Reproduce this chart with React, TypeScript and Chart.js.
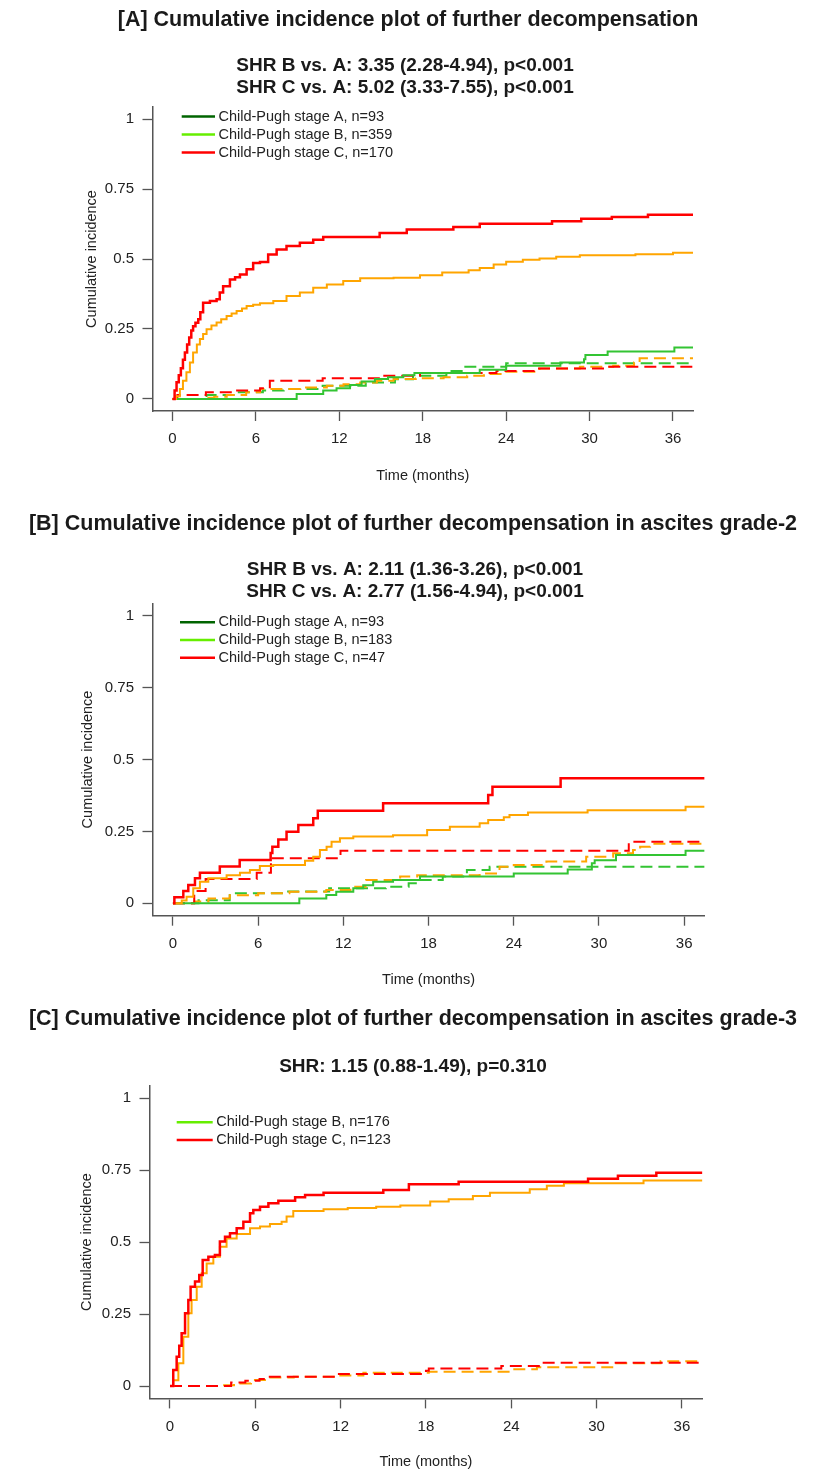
import React, { useEffect, useRef } from "react";
import { Chart, registerables } from "chart.js";

Chart.register(...registerables);

const FONT = '"Liberation Sans", Arial, Helvetica, sans-serif';

// ---------- shared axis data ----------
const xTickValues = [0, 6, 12, 18, 24, 30, 36];
const xTickLabels = ["0", "6", "12", "18", "24", "30", "36"];
const yTickValues = [0, 0.25, 0.5, 0.75, 1];
const yTickLabels = ["0", "0.25", "0.5", "0.75", "1"];
const xAxisTitle = "Time (months)";
const yAxisTitle = "Cumulative incidence";

// ---------- Panel A ----------
const titleA = "[A] Cumulative incidence plot of further decompensation";
const shrA = ["SHR B vs. A: 3.35 (2.28-4.94), p<0.001", "SHR C vs. A: 5.02 (3.33-7.55), p<0.001"];
const legendA = ["Child-Pugh stage A, n=93", "Child-Pugh stage B, n=359", "Child-Pugh stage C, n=170"];

const aStageCTime = [0, 0.15, 0.29, 0.45, 0.6, 0.75, 0.89, 1.05, 1.2, 1.35, 1.48, 1.65, 1.85, 2.0, 2.2, 2.69, 3.17, 3.4, 3.64, 4.13, 4.5, 4.85, 5.33, 5.8, 6.29, 6.88, 7.49, 8.2, 9.16, 10.12, 10.84, 14.9, 16.85, 20.2, 22.1, 27.3, 29.4, 31.6, 34.2, 37.44];
const aStageCInc = [0, 0.03, 0.06, 0.085, 0.11, 0.14, 0.166, 0.195, 0.22, 0.245, 0.26, 0.272, 0.285, 0.31, 0.344, 0.35, 0.356, 0.38, 0.403, 0.427, 0.435, 0.445, 0.463, 0.486, 0.489, 0.516, 0.534, 0.546, 0.558, 0.569, 0.579, 0.593, 0.605, 0.614, 0.626, 0.635, 0.644, 0.65, 0.658, 0.658];
const aStageBTime = [0, 0.25, 0.53, 0.75, 1.0, 1.25, 1.48, 1.75, 1.97, 2.2, 2.45, 2.8, 3.17, 3.5, 3.89, 4.25, 4.61, 5.0, 5.33, 5.8, 6.29, 7.25, 8.2, 9.16, 10.12, 11.1, 12.28, 13.5, 15.9, 17.8, 19.4, 21.3, 22.1, 23.1, 24.0, 25.2, 26.4, 27.6, 29.3, 33.3, 36.0, 37.44];
const aStageBInc = [0, 0.01, 0.036, 0.065, 0.095, 0.13, 0.166, 0.195, 0.214, 0.232, 0.249, 0.262, 0.273, 0.285, 0.296, 0.305, 0.314, 0.323, 0.332, 0.337, 0.342, 0.35, 0.368, 0.38, 0.397, 0.409, 0.421, 0.431, 0.433, 0.442, 0.452, 0.46, 0.468, 0.48, 0.49, 0.497, 0.502, 0.508, 0.513, 0.517, 0.522, 0.522];
const aStageATime = [0, 8.93, 10.84, 11.8, 12.77, 13.6, 14.56, 15.5, 16.6, 17.4, 22.1, 24.0, 27.9, 29.6, 29.7, 31.3, 36.1, 37.44];
const aStageAInc = [0, 0.018, 0.03, 0.038, 0.05, 0.062, 0.071, 0.078, 0.085, 0.0925, 0.104, 0.119, 0.13, 0.142, 0.157, 0.17, 0.184, 0.184];
const aStageACompTime = [0, 2.45, 4.6, 6.5, 8.0, 10.8, 13.9, 16.0, 17.3, 19.7, 20.8, 24.0, 37.44];
const aStageAComp = [0, 0.014, 0.024, 0.03, 0.036, 0.047, 0.059, 0.07, 0.083, 0.1, 0.115, 0.128, 0.128];
const aStageBCompTime = [0, 2.2, 3.0, 3.9, 5.3, 6.3, 9.2, 11.1, 12.3, 13.5, 14.7, 15.9, 17.5, 19.5, 21.2, 22.4, 23.6, 26.4, 29.3, 31.7, 33.2, 33.6, 37.44];
const aStageBComp = [0, 0.004, 0.008, 0.014, 0.024, 0.036, 0.041, 0.047, 0.053, 0.059, 0.065, 0.071, 0.074, 0.078, 0.083, 0.089, 0.097, 0.109, 0.115, 0.119, 0.13, 0.145, 0.145];
const aStageCCompTime = [0, 0.35, 2.4, 4.5, 6.3, 7.0, 10.8, 15.0, 17.8, 23.3, 26.0, 31.2, 37.44];
const aStageCComp = [0, 0.014, 0.024, 0.03, 0.038, 0.065, 0.074, 0.083, 0.0925, 0.1, 0.109, 0.115, 0.118];

// ---------- Panel B ----------
const titleB = "[B] Cumulative incidence plot of further decompensation in ascites grade-2";
const shrB = ["SHR B vs. A: 2.11 (1.36-3.26), p<0.001", "SHR C vs. A: 2.77 (1.56-4.94), p<0.001"];
const legendB = ["Child-Pugh stage A, n=93", "Child-Pugh stage B, n=183", "Child-Pugh stage C, n=47"];

const bStageCTime = [0, 0.1, 0.73, 1.08, 1.55, 1.9, 3.3, 4.7, 6.88, 7.0, 7.42, 8.0, 8.83, 9.88, 10.2, 14.8, 22.2, 22.5, 27.3, 37.44];
const bStageCInc = [0, 0.021, 0.043, 0.064, 0.087, 0.106, 0.128, 0.151, 0.175, 0.197, 0.222, 0.249, 0.272, 0.296, 0.322, 0.348, 0.377, 0.405, 0.435, 0.435];
const bStageBTime = [0, 0.62, 0.96, 1.43, 1.9, 2.49, 3.78, 4.72, 5.42, 6.12, 7.06, 9.3, 9.88, 10.35, 10.82, 11.17, 11.76, 12.7, 15.5, 17.9, 19.5, 21.6, 22.2, 23.3, 23.7, 25.0, 29.2, 36.1, 37.44];
const bStageBInc = [0, 0.01, 0.023, 0.052, 0.075, 0.087, 0.098, 0.106, 0.116, 0.13, 0.133, 0.148, 0.162, 0.185, 0.197, 0.214, 0.226, 0.232, 0.237, 0.255, 0.266, 0.278, 0.29, 0.299, 0.307, 0.316, 0.324, 0.336, 0.336];
const bStageATime = [0, 8.9, 10.8, 11.5, 12.7, 13.4, 14.1, 15.5, 17.4, 24.0, 27.8, 29.5, 29.7, 31.2, 36.1, 37.44];
const bStageAInc = [0, 0.017, 0.029, 0.04, 0.052, 0.063, 0.075, 0.081, 0.093, 0.104, 0.118, 0.139, 0.15, 0.168, 0.183, 0.183];
const bStageACompTime = [0, 1.8, 4.0, 8.0, 11.0, 15.0, 16.6, 17.4, 19.0, 20.7, 22.3, 37.44];
const bStageAComp = [0, 0.011, 0.035, 0.041, 0.052, 0.058, 0.07, 0.081, 0.093, 0.116, 0.127, 0.127];
const bStageBCompTime = [0, 1.5, 2.5, 4.0, 6.0, 8.2, 10.8, 12.5, 13.6, 16.0, 17.2, 21.6, 23.0, 24.0, 26.3, 29.1, 31.0, 32.4, 32.9, 33.6, 37.44];
const bStageBComp = [0, 0.006, 0.017, 0.028, 0.035, 0.04, 0.046, 0.058, 0.081, 0.093, 0.098, 0.104, 0.127, 0.133, 0.145, 0.162, 0.174, 0.185, 0.197, 0.207, 0.207];
const bStageCCompTime = [0, 1.5, 2.3, 5.9, 6.9, 11.8, 32.1, 37.44];
const bStageCComp = [0, 0.043, 0.085, 0.106, 0.157, 0.183, 0.214, 0.214];

// ---------- Panel C ----------
const titleC = "[C] Cumulative incidence plot of further decompensation in ascites grade-3";
const shrC = ["SHR: 1.15 (0.88-1.49), p=0.310"];
const legendC = ["Child-Pugh stage B, n=176", "Child-Pugh stage C, n=123"];

const cStageCTime = [0, 0.23, 0.47, 0.65, 0.82, 1.06, 1.29, 1.45, 1.76, 2.06, 2.3, 2.7, 3.16, 3.51, 3.87, 4.22, 4.69, 5.16, 5.63, 5.86, 6.33, 6.92, 7.62, 8.8, 9.5, 10.8, 15.0, 16.8, 20.3, 29.4, 31.5, 34.2, 37.44];
const cStageCInc = [0, 0.056, 0.102, 0.14, 0.183, 0.253, 0.299, 0.345, 0.363, 0.386, 0.438, 0.449, 0.455, 0.502, 0.519, 0.531, 0.548, 0.571, 0.6, 0.612, 0.623, 0.635, 0.644, 0.656, 0.664, 0.672, 0.681, 0.701, 0.71, 0.72, 0.731, 0.741, 0.741];
const cStageBTime = [0, 0.23, 0.59, 0.94, 1.29, 1.52, 1.88, 2.23, 2.58, 3.05, 3.51, 3.98, 4.69, 5.63, 6.33, 7.03, 7.85, 8.2, 8.67, 10.8, 12.5, 14.5, 16.2, 18.3, 19.6, 21.3, 22.5, 25.3, 26.5, 27.7, 33.3, 37.44];
const cStageBInc = [0, 0.02, 0.079, 0.171, 0.253, 0.299, 0.345, 0.392, 0.426, 0.449, 0.484, 0.513, 0.528, 0.548, 0.554, 0.563, 0.571, 0.589, 0.608, 0.614, 0.619, 0.623, 0.627, 0.641, 0.649, 0.66, 0.672, 0.684, 0.696, 0.705, 0.714, 0.714];
const cStageBCompTime = [0, 3.5, 4.5, 5.7, 6.9, 8.7, 11.8, 13.6, 18.2, 24.0, 25.8, 31.1, 34.5, 37.44];
const cStageBComp = [0, 0.003, 0.009, 0.021, 0.03, 0.032, 0.037, 0.046, 0.05, 0.058, 0.065, 0.079, 0.086, 0.086];
const cStageCCompTime = [0, 4.3, 5.3, 6.3, 6.6, 11.8, 18.0, 18.2, 23.3, 26.2, 37.44];
const cStageCComp = [0, 0.012, 0.018, 0.024, 0.032, 0.042, 0.053, 0.061, 0.07, 0.081, 0.082];

// ---------- styles ----------
const RED = "#FF0000";
const ORANGE = "#FFA500";
const GREEN = "#33C433";
const LEG_A = "#006400";
const LEG_B = "#66EE00";
const AXIS = "#555555";
const TEXT = "#1a1a1a";

type Series = { t: number[]; v: number[]; color: string; dashed: boolean; width: number };

const mk = (t: number[], v: number[], color: string, dashed: boolean, width: number): Series => ({ t, v, color, dashed, width });

const panels = [
  {
    key: "A",
    top: 0,
    height: 495,
    area: { left: 152.5, right: 693, top: 107, bottom: 411 },
    title: titleA,
    titleX: 408,
    titleY: 20,
    shr: shrA,
    shrX: 405,
    shrY: [66, 88],
    legend: legendA,
    legendColors: [LEG_A, LEG_B, RED],
    legendX1: 181.7,
    legendX2: 215,
    legendY0: 116.5,
    legendStep: 18,
    yTitleX: 91.5,
    xTitleY: 476,
    series: [
      mk(aStageCTime, aStageCInc, RED, false, 2.5),
      mk(aStageBTime, aStageBInc, ORANGE, false, 2),
      mk(aStageATime, aStageAInc, GREEN, false, 2),
      mk(aStageCCompTime, aStageCComp, RED, true, 2),
      mk(aStageBCompTime, aStageBComp, ORANGE, true, 2),
      mk(aStageACompTime, aStageAComp, GREEN, true, 2),
    ],
  },
  {
    key: "B",
    top: 495,
    height: 500,
    area: { left: 152.5, right: 704.6, top: 603.3, bottom: 915.7 },
    title: titleB,
    titleX: 413,
    titleY: 524,
    shr: shrB,
    shrX: 415,
    shrY: [570, 592],
    legend: legendB,
    legendColors: [LEG_A, LEG_B, RED],
    legendX1: 180,
    legendX2: 215,
    legendY0: 622.3,
    legendStep: 17.7,
    yTitleX: 88,
    xTitleY: 980,
    series: [
      mk(bStageCTime, bStageCInc, RED, false, 2.5),
      mk(bStageBTime, bStageBInc, ORANGE, false, 2),
      mk(bStageATime, bStageAInc, GREEN, false, 2),
      mk(bStageCCompTime, bStageCComp, RED, true, 2),
      mk(bStageBCompTime, bStageBComp, ORANGE, true, 2),
      mk(bStageACompTime, bStageAComp, GREEN, true, 2),
    ],
  },
  {
    key: "C",
    top: 995,
    height: 477,
    area: { left: 149.5, right: 702.4, top: 1085.9, bottom: 1398.4 },
    title: titleC,
    titleX: 413,
    titleY: 1019,
    shr: shrC,
    shrX: 413,
    shrY: [1067],
    legend: legendC,
    legendColors: [LEG_B, RED],
    legendX1: 176.7,
    legendX2: 212.7,
    legendY0: 1122.3,
    legendStep: 17.7,
    yTitleX: 86.7,
    xTitleY: 1462,
    series: [
      mk(cStageCTime, cStageCInc, RED, false, 2.5),
      mk(cStageBTime, cStageBInc, ORANGE, false, 2),
      mk(cStageCCompTime, cStageCComp, RED, true, 2),
      mk(cStageBCompTime, cStageBComp, ORANGE, true, 2),
    ],
  },
];

const TICK_SIZE = 15;
const LABEL_SIZE = 14.5;

function Panel({ cfg }: { cfg: any }) {
  const ref = useRef<HTMLCanvasElement>(null);
  useEffect(() => {
    const canvas = ref.current;
    if (!canvas) return;
    const H = cfg.height;
    const a = cfg.area;
    const labelLH = LABEL_SIZE * 1.2;

    const textPlugin = {
      id: "panelText" + cfg.key,
      afterDraw(chart: any) {
        const ctx = chart.ctx;
        ctx.save();
        ctx.fillStyle = TEXT;
        ctx.textAlign = "center";
        ctx.textBaseline = "middle";
        ctx.font = `bold 21.5px ${FONT}`;
        ctx.fillText(cfg.title, cfg.titleX, cfg.titleY - cfg.top);
        ctx.font = `bold 19px ${FONT}`;
        cfg.shr.forEach((s: string, i: number) => ctx.fillText(s, cfg.shrX, cfg.shrY[i] - cfg.top));
        ctx.textAlign = "left";
        ctx.font = `14.5px ${FONT}`;
        cfg.legend.forEach((lab: string, i: number) => {
          const y = cfg.legendY0 + i * cfg.legendStep - cfg.top;
          ctx.strokeStyle = cfg.legendColors[i];
          ctx.lineWidth = 2.6;
          ctx.beginPath();
          ctx.moveTo(cfg.legendX1, y);
          ctx.lineTo(cfg.legendX2, y);
          ctx.stroke();
          ctx.fillStyle = "#222";
          ctx.fillText(lab, cfg.legendX2 + 3.5, y);
        });
        ctx.restore();
      },
    };

    const chart = new Chart(canvas, {
      type: "line",
      data: {
        datasets: cfg.series.map((s: Series) => ({
          data: s.t.map((x, i) => ({ x, y: s.v[i] })),
          borderColor: s.color,
          backgroundColor: s.color,
          borderWidth: s.width,
          borderDash: s.dashed ? [12, 6] : [],
          stepped: true,
          pointRadius: 0,
          pointHoverRadius: 0,
          fill: false,
          tension: 0,
        })),
      },
      options: {
        animation: false,
        responsive: false,
        maintainAspectRatio: false,
        events: [],
        layout: {
          padding: { left: 0, right: 825 - a.right, top: a.top - cfg.top, bottom: 0 },
        },
        plugins: {
          legend: { display: false },
          title: { display: false },
          tooltip: { enabled: false },
        },
        scales: {
          x: {
            type: "linear",
            min: -1.44,
            max: 37.44,
            afterBuildTicks: (s: any) => {
              s.ticks = xTickValues.map((v) => ({ value: v }));
            },
            afterFit: (s: any) => {
              s.height = H - (a.bottom - cfg.top);
            },
            ticks: {
              autoSkip: false,
              maxRotation: 0,
              padding: 9,
              color: "#222",
              font: { family: FONT, size: TICK_SIZE },
              callback: (_v: any, i: number) => xTickLabels[i],
            },
            grid: {
              display: true,
              drawOnChartArea: false,
              drawTicks: true,
              tickLength: 10,
              tickColor: AXIS,
              tickWidth: 1.3,
            },
            border: { display: true, color: AXIS, width: 1.5 },
            title: {
              display: true,
              text: xAxisTitle,
              color: "#222",
              font: { family: FONT, size: LABEL_SIZE },
              padding: { top: 0, bottom: H - (cfg.xTitleY - cfg.top) - labelLH / 2 },
            },
          },
          y: {
            type: "linear",
            min: -0.043,
            max: 1.043,
            afterBuildTicks: (s: any) => {
              s.ticks = yTickValues.map((v) => ({ value: v }));
            },
            afterFit: (s: any) => {
              s.width = a.left;
            },
            ticks: {
              autoSkip: false,
              padding: 8.5,
              color: "#222",
              font: { family: FONT, size: TICK_SIZE },
              callback: (_v: any, i: number) => yTickLabels[i],
            },
            grid: {
              display: true,
              drawOnChartArea: false,
              drawTicks: true,
              tickLength: 10,
              tickColor: AXIS,
              tickWidth: 1.3,
            },
            border: { display: true, color: AXIS, width: 1.5 },
            title: {
              display: true,
              text: yAxisTitle,
              color: "#222",
              font: { family: FONT, size: LABEL_SIZE },
              padding: { top: cfg.yTitleX - labelLH / 2, bottom: 0 },
            },
          },
        },
      } as any,
      plugins: [textPlugin],
    });
    return () => chart.destroy();
  }, [cfg]);

  return (
    <canvas
      ref={ref}
      width={825}
      height={cfg.height}
      style={{ position: "absolute", left: 0, top: cfg.top, width: 825, height: cfg.height, display: "block" }}
    />
  );
}

export default function App() {
  return (
    <div style={{ position: "absolute", left: 0, top: 0, width: 825, height: 1472, background: "#ffffff" }}>
      {panels.map((p) => (
        <Panel key={p.key} cfg={p} />
      ))}
    </div>
  );
}
